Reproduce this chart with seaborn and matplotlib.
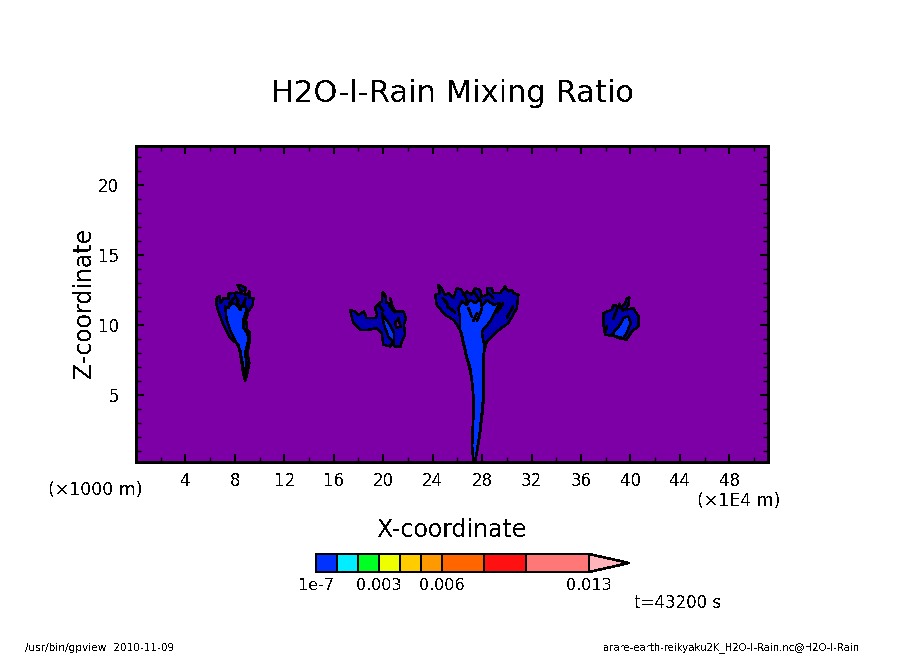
import matplotlib
matplotlib.use("Agg")
import matplotlib.pyplot as plt
import seaborn as sns
import numpy as np

# Outer (1e-7) contour regions: x in 1E4 m, z in 1000 m
cell1_outer_x = [6.53,6.75,6.85,7.07,7.47,7.47,8.15,8.96,9.17,9.17,9.5,9.45,9.09,8.9,9.01,9.23,9.23,9.01,9.17,8.96,8.83,8.69,8.42,8.29,7.61,7.07,6.66,6.48]
cell1_outer_z = [11.91,12.07,11.55,11.91,11.84,12.22,12.31,12.15,12.38,11.91,11.91,11.43,10.96,10.36,9.65,9.41,8.93,7.98,7.27,6.31,5.96,6.43,7.98,8.58,9.05,10.0,10.96,11.55]
cell1_top_x = [8.2,8.42,8.9,8.83,8.42]
cell1_top_z = [12.86,12.86,12.62,12.38,12.45]
cell2_outer_x = [17.31,17.72,17.99,18.44,18.66,19.34,19.52,19.34,19.52,19.88,19.96,20.15,20.28,20.69,20.55,20.69,20.96,21.63,21.85,21.68,21.77,21.5,21.41,20.96,20.69,20.55,20.01,19.88,19.47,18.8,18.12,17.58]
cell2_outer_z = [11.07,10.95,10.71,10.95,10.47,10.47,10.71,11.19,11.43,11.66,12.31,12.21,11.54,11.54,11.9,11.42,10.95,10.95,10.47,10.0,9.28,8.81,8.45,8.45,8.69,8.45,8.57,9.4,9.76,9.64,9.64,10.12]
cell2_hole_x = [20.96,21.23,21.41,21.09]
cell2_hole_z = [10.12,10.47,9.88,9.76]
cell3_outer_x = [24.19,24.6,24.41,24.73,25.0,25.27,25.68,25.95,26.35,26.49,26.76,27.16,27.43,27.84,27.97,28.38,28.38,28.78,28.92,29.46,29.86,30.13,30.4,30.54,30.94,30.81,30.13,29.19,28.38,28.11,28.16,28.16,28.06,27.84,27.62,27.44,27.3,27.17,27.25,27.3,27.22,27.08,26.76,26.3,25.68,25.0,24.33]
cell3_outer_z = [12.14,12.26,12.86,12.62,12.14,12.26,11.9,12.62,12.5,12.14,12.38,12.14,12.62,12.5,12.02,12.14,12.62,12.62,12.26,12.26,12.74,12.38,12.5,12.26,12.14,11.19,10.12,9.52,8.81,7.86,6.79,5.12,3.93,2.27,1.08,0.2,0.2,1.32,2.98,4.41,5.6,6.79,7.74,9.52,10.36,10.71,11.43]
cell4_outer_x = [37.81,38.49,38.62,39.03,39.16,39.57,39.7,39.92,39.84,39.57,40.24,40.65,40.65,40.11,39.7,39.03,38.76,37.95,37.81]
cell4_outer_z = [10.84,11.08,11.43,11.31,11.19,11.55,11.91,11.96,11.43,11.08,11.19,10.6,9.88,9.53,8.93,9.05,9.17,9.29,10.0]

# Inner (0.001) contour regions
cell1_inner_x = [7.2,7.47,7.75,8.15,8.42,8.69,8.96,8.69,8.69,9.01,9.09,8.83,8.96,8.83,8.64,8.42,8.15,7.61,7.34]
cell1_inner_z = [11.31,11.19,11.55,11.43,11.07,11.55,11.07,10.36,9.77,9.41,8.93,7.98,7.15,6.31,7.15,8.22,8.69,9.65,10.36]
cell2_inner_x = [19.88,20.15,20.55,20.87,20.87,20.42,20.06]
cell2_inner_z = [10.83,10.47,10.0,9.4,8.74,9.16,10.0]
cell3_inner_x = [26.08,26.35,26.76,27.03,27.43,27.84,27.97,28.38,28.92,29.46,29.05,28.65,27.97,28.16,28.11,28.11,28.0,27.8,27.6,27.42,27.32,27.2,27.28,27.33,27.25,27.03,26.62,26.22,26.22]
cell3_inner_z = [11.19,11.67,11.43,11.78,11.55,11.9,11.31,11.78,11.43,11.55,10.95,10.24,9.52,8.57,6.79,5.12,3.93,2.27,1.08,0.2,0.2,1.32,2.98,4.41,5.6,6.67,8.1,9.64,10.48]
cell4_inner_x = [38.49,39.16,39.43,39.84,40.02,39.7,39.43,38.89]
cell4_inner_z = [9.29,10.0,10.48,10.6,10.12,9.41,9.05,9.17]

# Short closed contour streaks inside the cells
streaks_x = [[7.55,7.9],[8.2,8.5],[8.85,8.7],[26.9,27.15],[27.55,27.3],[28.0,27.6],[29.2,29.7],[25.2,25.8],[38.6,38.95],[37.95,38.1],[19.6,20.0],[30.0,30.5],[26.6,26.8],[27.4,27.7],[28.5,28.9],[24.8,25.2],[8.0,8.3],[20.5,20.9],[39.1,39.4]]
streaks_z = [[11.5,11.9],[11.6,11.1],[11.9,11.3],[11.2,10.6],[10.8,10.3],[11.2,10.3],[10.9,11.5],[11.3,10.9],[10.4,11.2],[9.4,9.9],[11.5,11.0],[10.5,11.3],[12.2,11.6],[12.3,11.9],[12.3,11.9],[11.9,11.5],[12.1,11.7],[11.4,10.9],[11.5,11.0]]

x_majors = [4,8,12,16,20,24,28,32,36,40,44,48]
z_majors = [5,10,15,20]

level_edges = [1e-7,0.001,0.002,0.003,0.004,0.005,0.006,0.008,0.010,0.013]
level_colors = ['#0033FF','#00EEFF','#00FF22','#EEFF00','#FFCC00','#FF9900','#FF6600','#FF1111','#FF7777']
over_color = '#FFB3BB'
over_end = 0.0149
level_labels = {1e-7:'1e-7',0.003:'0.003',0.006:'0.006',0.013:'0.013'}

PURPLE = '#7D00A6'
DARK = '#0000B2'
BLUE = '#0033FF'

sns.set_theme(style="ticks")
plt.rcParams['font.family'] = ['DejaVu Sans']
plt.rcParams['text.antialiased'] = False
plt.rcParams['text.color'] = 'black'
plt.rcParams['lines.antialiased'] = False
plt.rcParams['patch.antialiased'] = False

W, H = 904, 654
fig = plt.figure(figsize=(W/100, H/100), dpi=100, facecolor='white')
ax = fig.add_axes([136/W, 1-462/H, 632/W, 316/H])
ax.set_facecolor(PURPLE)
ax.set_xlim(0, 51.13)
ax.set_ylim(0.2, 22.77)

for xs, zs in [(cell1_outer_x, cell1_outer_z), (cell1_top_x, cell1_top_z), (cell2_outer_x, cell2_outer_z),
               (cell3_outer_x, cell3_outer_z), (cell4_outer_x, cell4_outer_z)]:
    ax.fill(xs, zs, color=DARK, lw=0)
    sns.lineplot(x=xs+xs[:1], y=zs+zs[:1], sort=False, estimator=None, color='black', lw=1.0, ax=ax)
ax.fill(cell2_hole_x, cell2_hole_z, color=PURPLE, lw=0)
sns.lineplot(x=cell2_hole_x+cell2_hole_x[:1], y=cell2_hole_z+cell2_hole_z[:1], sort=False, estimator=None, color='black', lw=1.0, ax=ax)
for xs, zs in [(cell1_inner_x, cell1_inner_z), (cell2_inner_x, cell2_inner_z),
               (cell3_inner_x, cell3_inner_z), (cell4_inner_x, cell4_inner_z)]:
    ax.fill(xs, zs, color=BLUE, lw=0)
    sns.lineplot(x=xs+xs[:1], y=zs+zs[:1], sort=False, estimator=None, color='black', lw=1.0, ax=ax)
for xs, zs in zip(streaks_x, streaks_z):
    sns.lineplot(x=xs, y=zs, sort=False, estimator=None, color='black', lw=1.2, ax=ax)

ax.set_xticks(x_majors)
ax.set_xticks(np.arange(2, 51, 2), minor=True)
ax.set_yticks(z_majors)
ax.set_yticks(np.arange(1, 23, 1), minor=True)
ax.tick_params(which='major', direction='in', length=6, width=1.5, top=True, right=True, color='black',
               labelsize=12, labelcolor='black')
ax.tick_params(which='minor', direction='in', length=3.5, width=1, top=True, right=True, color='black')
ax.tick_params(axis='x', which='major', pad=7)
ax.tick_params(axis='y', which='major', pad=12)
for s in ax.spines.values():
    s.set_visible(True)
    s.set_linewidth(1.8)
    s.set_color('black')

def px(x, y, s, size, ha='center', va='center', **kw):
    fig.text(x/W, 1-y/H, s, fontsize=size, ha=ha, va=va, color='black', **kw)

px(452, 94, 'H2O-l-Rain Mixing Ratio', 22)
px(84, 303, 'Z-coordinate', 17, rotation=90)
px(452, 530, 'X-coordinate', 17)
px(95, 490, '(×1000 m)', 12.5)
px(739, 501, '(×1E4 m)', 12.5)
px(678, 603, 't=43200 s', 12)
px(25, 648, '/usr/bin/gpview  2010-11-09', 7.6, ha='left')
px(860, 648, 'arare-earth-reikyaku2K_H2O-l-Rain.nc@H2O-l-Rain', 7.3, ha='right')

# Colour bar on a linear value scale
cax = fig.add_axes([316/W, 1-572/H, 315/W, 18/H])
cax.set_xlim(0, 0.015)
cax.set_ylim(0, 1)
cax.axis('off')
lefts = np.array(level_edges[:-1])
widths = np.diff(level_edges)
cax.barh([0.5]*len(widths), widths, left=lefts, height=1, color=level_colors, edgecolor='black', linewidth=1.1, clip_on=False)
cax.fill([level_edges[-1], over_end, level_edges[-1]], [1, 0.5, 0], facecolor=over_color, edgecolor='black', linewidth=1.1, clip_on=False)
for val, lab in level_labels.items():
    cax.annotate(lab, (val, 0), xytext=(0, -14), textcoords='offset pixels', ha='center', va='center', fontsize=11.5, color='black', annotation_clip=False)

fig.savefig('out.png', dpi=100, facecolor='white')
